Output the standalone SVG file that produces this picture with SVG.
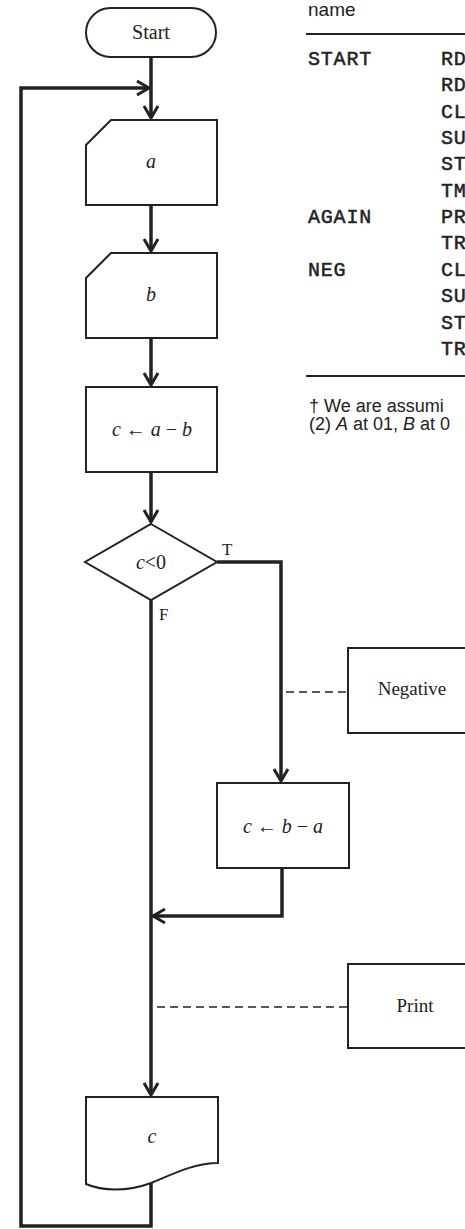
<svg xmlns="http://www.w3.org/2000/svg" width="465" height="1229" viewBox="0 0 465 1229">
<style>
.box{fill:#fff;stroke:#222;stroke-width:2;stroke-linejoin:miter}
.flow{fill:none;stroke:#222;stroke-width:3.5}
.dash{fill:none;stroke:#222;stroke-width:1.6;stroke-dasharray:8 5}
.rule{stroke:#222;stroke-width:2}
.lbl{font-family:"Liberation Serif",serif;font-size:19px;fill:#222;text-anchor:middle}
.big{font-size:20px}
.var{font-family:"Liberation Serif",serif;font-size:20px;font-style:italic;fill:#222;text-anchor:middle}
.rom{font-style:normal}
.tf{font-family:"Liberation Serif",serif;font-size:17px;fill:#222}
.mono{font-family:"Liberation Mono",monospace;font-size:20px;fill:#222;stroke:#222;stroke-width:0.5;letter-spacing:0.8px}
.sans{font-family:"Liberation Sans",Arial,sans-serif;font-size:18px;fill:#222}
.head{font-size:19px}
</style>
<defs>
<marker id="arr" viewBox="-14 -9 16 18" refX="0" refY="0" markerWidth="16" markerHeight="18" markerUnits="userSpaceOnUse" orient="auto">
<path d="M-12,-7 L0,0 L-12,7" fill="none" stroke="#222" stroke-width="3"/>
</marker>
</defs>
<rect width="465" height="1229" fill="#fff"/>

<g id="connectors">
<path class="flow" d="M151,57 V118" marker-end="url(#arr)"/>
<path class="flow" d="M151,1182 V1226 H21 V88 H149" marker-end="url(#arr)"/>
<path class="flow" d="M151,205 V251" marker-end="url(#arr)"/>
<path class="flow" d="M151,338 V385" marker-end="url(#arr)"/>
<path class="flow" d="M151,472 V522" marker-end="url(#arr)"/>
<path class="flow" d="M217,562 H281 V781" marker-end="url(#arr)"/>
<path class="flow" d="M151,600 V1095" marker-end="url(#arr)"/>
<path class="flow" d="M282,868 V916 H153" marker-end="url(#arr)"/>
<path class="dash" d="M286,692 H348"/>
<path class="dash" d="M157,1007 H348"/>
</g>

<g id="start">
<rect class="box" x="86" y="8" width="130" height="49" rx="24.5"/>
<text class="lbl big" x="151" y="39">Start</text>
</g>

<g id="input-a">
<path class="box" d="M111,120 H217 V205 H86 V145 Z"/>
<text class="var" x="151" y="168">a</text>
</g>

<g id="input-b">
<path class="box" d="M111,253 H217 V338 H86 V278 Z"/>
<text class="var" x="151" y="301">b</text>
</g>

<g id="proc-ab">
<rect class="box" x="86" y="387" width="131" height="85"/>
<text class="var" x="152" y="436">c <tspan class="rom">←</tspan> a <tspan class="rom">−</tspan> b</text>
</g>

<g id="decision">
<path class="box" d="M151,524 L217,562 L151,600 L85,562 Z"/>
<text class="var" x="151" y="569">c<tspan class="rom">&lt;0</tspan></text>
<text class="tf" x="222" y="555">T</text>
<text class="tf" x="159" y="620">F</text>
</g>

<g id="proc-ba">
<rect class="box" x="217" y="783" width="132" height="85"/>
<text class="var" x="283" y="833">c <tspan class="rom">←</tspan> b <tspan class="rom">−</tspan> a</text>
</g>

<g id="note-negative">
<rect class="box" x="348" y="648" width="140" height="85"/>
<text class="lbl" x="412" y="695">Negative</text>
</g>

<g id="note-print">
<rect class="box" x="348" y="964" width="140" height="84"/>
<text class="lbl" x="415" y="1012">Print</text>
</g>

<g id="output-c">
<path class="box" d="M86,1097 H218 V1163 C195,1163 175,1173 151,1183 C127,1192 102,1191 86,1184 Z"/>
<text class="var" x="152" y="1143">c</text>
</g>

<g id="listing">
<text class="sans head" x="308" y="16">name</text>
<line class="rule" x1="306" y1="34" x2="465" y2="34"/>
<text class="mono" x="308" y="65">START</text>
<text class="mono" x="308" y="223">AGAIN</text>
<text class="mono" x="308" y="276">NEG</text>
<text class="mono" x="441" y="65">RD</text>
<text class="mono" x="441" y="91">RD</text>
<text class="mono" x="441" y="118">CL</text>
<text class="mono" x="441" y="144">SU</text>
<text class="mono" x="441" y="170">ST</text>
<text class="mono" x="441" y="197">TM</text>
<text class="mono" x="441" y="223">PR</text>
<text class="mono" x="441" y="249">TR</text>
<text class="mono" x="441" y="276">CL</text>
<text class="mono" x="441" y="302">SU</text>
<text class="mono" x="441" y="329">ST</text>
<text class="mono" x="441" y="355">TR</text>
<line class="rule" x1="306" y1="376" x2="465" y2="376"/>
<text class="sans" x="309" y="412">† We are assumi</text>
<text class="sans" x="309" y="430">(2) <tspan font-style="italic">A</tspan> at 01, <tspan font-style="italic">B</tspan> at 0</text>
</g>
</svg>
